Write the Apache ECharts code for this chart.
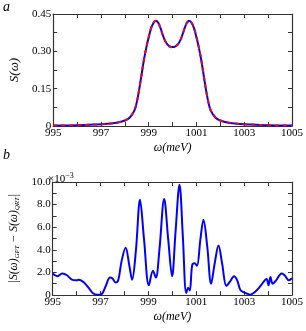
<!DOCTYPE html>
<html><head><meta charset="utf-8">
<script src="https://cdn.jsdelivr.net/npm/echarts@6/dist/echarts.min.js"></script>
<style>html,body{margin:0;padding:0;background:#fff}#c{width:306px;height:331px}</style>
</head><body><div id="c"></div>
<script>
// ---- data ----
var omegaTop = [995.0,995.5,996.0,996.5,997.0,997.5,997.8,998.0,998.2,998.4,998.5,998.6,998.7,998.8,998.9,999.0,999.1,999.2,999.3,999.4,999.5,999.6,999.7,999.8,999.9,1000.0,1000.1,1000.2,1000.3,1000.4,1000.5,1000.6,1000.7,1000.8,1000.9,1001.0,1001.1,1001.2,1001.3,1001.4,1001.5,1001.6,1001.8,1002.0,1002.2,1002.5,1003.0,1003.5,1004.0,1004.5,1005.0];
var sGPT = [0.002,0.002,0.003,0.005,0.007,0.011,0.016,0.022,0.033,0.062,0.095,0.145,0.205,0.265,0.315,0.356,0.392,0.414,0.423,0.415,0.392,0.363,0.340,0.326,0.319,0.317,0.319,0.326,0.340,0.363,0.392,0.415,0.423,0.414,0.392,0.356,0.315,0.265,0.205,0.145,0.095,0.062,0.033,0.022,0.016,0.011,0.007,0.005,0.003,0.002,0.002];
var sQRT = [0.002,0.002,0.003,0.005,0.007,0.011,0.016,0.022,0.034,0.063,0.096,0.146,0.206,0.266,0.316,0.357,0.393,0.415,0.423,0.415,0.391,0.362,0.339,0.325,0.318,0.316,0.318,0.325,0.339,0.362,0.391,0.415,0.423,0.415,0.393,0.357,0.316,0.266,0.206,0.146,0.096,0.063,0.034,0.022,0.016,0.011,0.007,0.005,0.003,0.002,0.002];

var omegaDiff = [995.0,995.19,995.4,995.6,995.8,996.0,996.1,996.33,996.53,996.67,996.87,997.03,997.2,997.4,997.5,997.63,997.74,997.88,998.05,998.2,998.32,998.48,998.65,998.82,999.02,999.19,999.31,999.46,999.66,999.83,999.99,1000.13,1000.3,1000.44,1000.58,1000.66,1000.73,1000.83,1000.93,1001.03,1001.17,1001.3,1001.46,1001.62,1001.77,1001.93,1002.08,1002.26,1002.4,1002.58,1002.71,1002.85,1003.05,1003.25,1003.45,1003.65,1003.86,1003.94,1004.02,1004.1,1004.19,1004.32,1004.57,1004.69,1004.87,1005.0];
var diffE3 = [1.9,1.66,1.9,1.75,1.36,1.3,1.36,1.07,0.56,0.18,0.03,0.06,0.7,1.54,1.45,1.1,1.3,3.0,4.18,2.64,1.36,3.98,8.43,4.87,0.86,2.14,1.54,3.98,8.5,4.87,1.66,5.46,9.76,5.16,0.18,0.65,0.4,2.64,2.8,2.58,4.87,6.65,4.27,1.0,2.8,4.39,2.8,0.8,1.16,1.66,1.3,0.42,0.18,0.03,0.27,0.71,1.3,1.42,0.86,1.6,1.0,1.25,1.9,1.75,1.3,1.48];

var xTicks = [995,997,999,1001,1003,1005];
var yTopLabels = ['0','0.15','0.30','0.45'];
var yBotLabels = ['0','2.0','4.0','6.0','8.0','10.0'];

function zip(a,b){return a.map(function(v,i){return [v,b[i]];});}

var FONT = 'Liberation Serif';
var axisColor = '#333';

function xAx(grid, show, pos){
  return {type:'value', gridIndex:grid, min:995, max:1005, interval:1, position:pos,
    axisLine:{show:true, onZero:false, lineStyle:{color:axisColor, width:1.2}},
    axisTick:{show:true, inside:true, length:4, lineStyle:{color:axisColor}},
    splitLine:{show:false},
    axisLabel:{show:show, margin:2, fontFamily:FONT, fontSize:11, color:'#000', showMaxLabel:true, showMinLabel:true,
      formatter:function(v){var r=Math.round(v); return xTicks.indexOf(r)>=0? String(r):'';}},
    name: show? 'ω(meV)':'', nameLocation:'middle', nameGap:16,
    nameTextStyle:{fontFamily:FONT, fontSize:12, fontStyle:'italic', color:'#000'}
  };
}
function yAx(grid, show, pos, max, interval, labels, name, fs){
  return {type:'value', gridIndex:grid, min:0, max:max, interval:interval, position:pos,
    axisLine:{show:true, onZero:false, lineStyle:{color:axisColor, width:1.2}},
    axisTick:{show:true, inside:true, length:4, lineStyle:{color:axisColor}},
    splitLine:{show:false},
    axisLabel:{show:show, margin:2, fontFamily:FONT, fontSize:11, color:'#000', showMaxLabel:true,
      formatter:function(v){var i=Math.round(v/interval); return i%2? '' : labels[i/2];}},
    name: show? name:'', nameLocation:'middle', nameGap:27,
    nameTextStyle:{fontFamily:FONT, fontSize:fs, fontStyle:'italic', color:'#000',
      rich:{sub:{fontFamily:FONT, fontSize:7, fontStyle:'italic', color:'#000', verticalAlign:'bottom', padding:[6,0,0,0]}}}
  };
}

var chart = echarts.init(document.getElementById('c'), null, {renderer:'canvas'});
chart.setOption({
  animation:false,
  backgroundColor:'#fff',
  grid:[{left:47, right:11, top:14, height:112},{left:47, right:11, top:182, height:113}],
  xAxis:[xAx(0,true,'bottom'), xAx(0,false,'top'), xAx(1,true,'bottom'), xAx(1,false,'top')],
  yAxis:[
    yAx(0,true,'left',0.45,0.075,yTopLabels,'S(ω)',13),
    yAx(0,false,'right',0.45,0.075,yTopLabels,'',13),
    yAx(1,true,'left',10,1,yBotLabels,'|S(ω){sub|GPT} − S(ω){sub|QRT}|',11.5),
    yAx(1,false,'right',10,1,yBotLabels,'',11)
  ],
  series:[
    {type:'line', xAxisIndex:0, yAxisIndex:0, data:zip(omegaTop,sGPT), showSymbol:false, smooth:0.4,
      lineStyle:{color:'#0000ff', width:2}},
    {type:'line', xAxisIndex:0, yAxisIndex:0, data:zip(omegaTop,sQRT), showSymbol:false, smooth:0.4,
      lineStyle:{color:'#ff0000', width:2, type:[4,4]}},
    {type:'line', xAxisIndex:2, yAxisIndex:2, data:zip(omegaDiff,diffE3), showSymbol:false, smooth:0.35,
      lineStyle:{color:'#0000ff', width:2}}
  ],
  graphic:[
    {type:'text', left:3, top:0, style:{text:'a', fontFamily:FONT, fontSize:14, fontStyle:'italic', fill:'#000'}},
    {type:'text', left:3, top:148, style:{text:'b', fontFamily:FONT, fontSize:14, fontStyle:'italic', fill:'#000'}},
    {type:'text', left:48, top:172, style:{text:'×10{sup|−3}', fontFamily:FONT, fontSize:11, fill:'#000',
      rich:{sup:{fontFamily:FONT, fontSize:8, fill:'#000', verticalAlign:'top', padding:[0,0,6,0]}}}}
  ]
});
</script></body></html>
